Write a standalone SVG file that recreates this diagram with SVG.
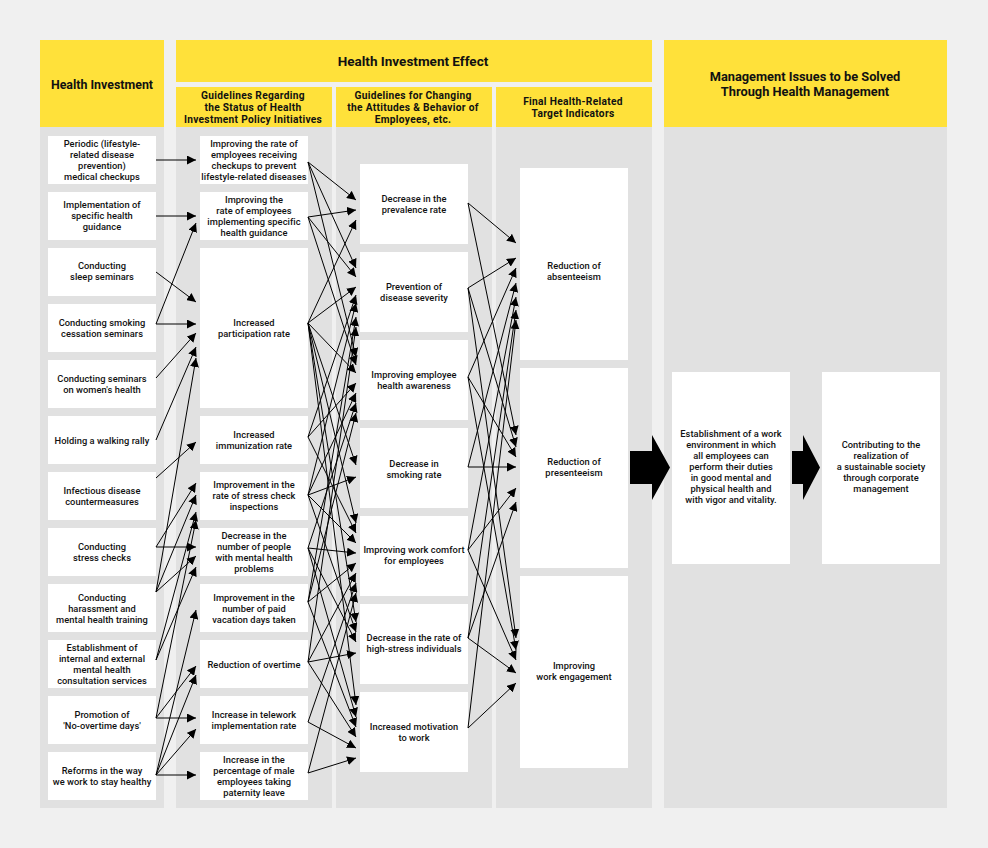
<svg xmlns="http://www.w3.org/2000/svg" width="988" height="848" viewBox="0 0 988 848">
<style>
.y{fill:#ffe13a}
.g{fill:#e1e1e1}
.w{fill:#fff}
text{font-family:Roboto,"Noto Sans",sans-serif;fill:#111;text-anchor:middle}
.t{font-size:9.3px;font-weight:500;letter-spacing:0.05px}
.h{font-size:12.4px;font-weight:bold}
.s{font-size:10.2px;font-weight:bold;letter-spacing:0.3px}
.c path{fill:none;stroke:#000;stroke-width:1;marker-end:url(#ah)}
</style>
<defs>
<marker id="ah" markerUnits="userSpaceOnUse" markerWidth="10" markerHeight="9" refX="9" refY="4.5" orient="auto">
<path d="M0,0 L9,4.5 L0,9 Z" fill="#000"/>
</marker>
</defs>
<rect width="988" height="848" fill="#f0f0f0"/>
<g id="columns">
<rect class="y" x="40" y="40" width="124" height="87"/>
<rect class="g" x="40" y="127" width="124" height="681"/>
<rect class="y" x="176" y="40" width="476" height="42"/>
<rect class="y" x="176" y="87" width="156" height="40"/>
<rect class="y" x="336" y="87" width="156" height="40"/>
<rect class="y" x="496" y="87" width="156" height="40"/>
<rect class="g" x="176" y="127" width="156" height="681"/>
<rect class="g" x="336" y="127" width="156" height="681"/>
<rect class="g" x="496" y="127" width="156" height="681"/>
<rect class="y" x="664" y="40" width="283" height="87"/>
<rect class="g" x="664" y="127" width="283" height="681"/>
</g>
<g id="headers">
<text class="h" x="102" y="88.5">Health Investment</text>
<text class="h" x="413" y="66" style="font-size:13.5px">Health Investment Effect</text>
<text class="s" x="253" y="98.5">Guidelines Regarding</text>
<text class="s" x="253" y="110.5">the Status of Health</text>
<text class="s" x="253" y="122.5">Investment Policy Initiatives</text>
<text class="s" x="413" y="98.5">Guidelines for Changing</text>
<text class="s" x="413" y="110.5">the Attitudes &amp; Behavior of</text>
<text class="s" x="413" y="122.5">Employees, etc.</text>
<text class="s" x="573" y="104.5">Final Health-Related</text>
<text class="s" x="573" y="116.5">Target Indicators</text>
<text class="h" x="805" y="80.5" style="font-size:12.8px">Management Issues to be Solved</text>
<text class="h" x="805" y="95.5" style="font-size:12.8px">Through Health Management</text>
</g>
<g id="hi1"><rect class="w" x="48" y="136" width="108" height="48"/><text class="t" x="102" y="147">Periodic (lifestyle-</text><text class="t" x="102" y="158">related disease</text><text class="t" x="102" y="169">prevention)</text><text class="t" x="102" y="180">medical checkups</text></g>
<g id="hi2"><rect class="w" x="48" y="192" width="108" height="48"/><text class="t" x="102" y="208">Implementation of</text><text class="t" x="102" y="219">specific health</text><text class="t" x="102" y="230">guidance</text></g>
<g id="hi3"><rect class="w" x="48" y="248" width="108" height="48"/><text class="t" x="102" y="269">Conducting</text><text class="t" x="102" y="280">sleep seminars</text></g>
<g id="hi4"><rect class="w" x="48" y="304" width="108" height="48"/><text class="t" x="102" y="325.5">Conducting smoking</text><text class="t" x="102" y="336.5">cessation seminars</text></g>
<g id="hi5"><rect class="w" x="48" y="360" width="108" height="48"/><text class="t" x="102" y="381.5">Conducting seminars</text><text class="t" x="102" y="392.5">on women's health</text></g>
<g id="hi6"><rect class="w" x="48" y="416" width="108" height="48"/><text class="t" x="102" y="443.5">Holding a walking rally</text></g>
<g id="hi7"><rect class="w" x="48" y="472" width="108" height="48"/><text class="t" x="102" y="493.5">Infectious disease</text><text class="t" x="102" y="504.5">countermeasures</text></g>
<g id="hi8"><rect class="w" x="48" y="528" width="108" height="48"/><text class="t" x="102" y="549.5">Conducting</text><text class="t" x="102" y="560.5">stress checks</text></g>
<g id="hi9"><rect class="w" x="48" y="584" width="108" height="48"/><text class="t" x="102" y="600.5">Conducting</text><text class="t" x="102" y="611.5">harassment and</text><text class="t" x="102" y="622.5">mental health training</text></g>
<g id="hi10"><rect class="w" x="48" y="640" width="108" height="48"/><text class="t" x="102" y="651">Establishment of</text><text class="t" x="102" y="662">internal and external</text><text class="t" x="102" y="673">mental health</text><text class="t" x="102" y="684">consultation services</text></g>
<g id="hi11"><rect class="w" x="48" y="696" width="108" height="48"/><text class="t" x="102" y="717.5">Promotion of</text><text class="t" x="102" y="728.5">'No-overtime days'</text></g>
<g id="hi12"><rect class="w" x="48" y="752" width="108" height="48"/><text class="t" x="102" y="773.5">Reforms in the way</text><text class="t" x="102" y="784.5">we work to stay healthy</text></g>
<g id="pi1"><rect class="w" x="200" y="136" width="108" height="48"/><text class="t" x="254" y="147">Improving the rate of</text><text class="t" x="254" y="158">employees receiving</text><text class="t" x="254" y="169">checkups to prevent</text><text class="t" x="254" y="180">lifestyle-related diseases</text></g>
<g id="pi2"><rect class="w" x="200" y="192" width="108" height="48"/><text class="t" x="254" y="203">Improving the</text><text class="t" x="254" y="214">rate of employees</text><text class="t" x="254" y="225">implementing specific</text><text class="t" x="254" y="236">health guidance</text></g>
<g id="pi3"><rect class="w" x="200" y="248" width="108" height="160"/><text class="t" x="254" y="325.5">Increased</text><text class="t" x="254" y="336.5">participation rate</text></g>
<g id="pi4"><rect class="w" x="200" y="416" width="108" height="48"/><text class="t" x="254" y="437.5">Increased</text><text class="t" x="254" y="448.5">immunization rate</text></g>
<g id="pi5"><rect class="w" x="200" y="472" width="108" height="48"/><text class="t" x="254" y="488">Improvement in the</text><text class="t" x="254" y="499">rate of stress check</text><text class="t" x="254" y="510">inspections</text></g>
<g id="pi6"><rect class="w" x="200" y="528" width="108" height="48"/><text class="t" x="254" y="539">Decrease in the</text><text class="t" x="254" y="550">number of people</text><text class="t" x="254" y="561">with mental health</text><text class="t" x="254" y="572">problems</text></g>
<g id="pi7"><rect class="w" x="200" y="584" width="108" height="48"/><text class="t" x="254" y="600.5">Improvement in the</text><text class="t" x="254" y="611.5">number of paid</text><text class="t" x="254" y="622.5">vacation days taken</text></g>
<g id="pi8"><rect class="w" x="200" y="640" width="108" height="48"/><text class="t" x="254" y="667.5">Reduction of overtime</text></g>
<g id="pi9"><rect class="w" x="200" y="696" width="108" height="48"/><text class="t" x="254" y="717.5">Increase in telework</text><text class="t" x="254" y="728.5">implementation rate</text></g>
<g id="pi10"><rect class="w" x="200" y="752" width="108" height="48"/><text class="t" x="254" y="763">Increase in the</text><text class="t" x="254" y="774">percentage of male</text><text class="t" x="254" y="785">employees taking</text><text class="t" x="254" y="796">paternity leave</text></g>
<g id="ab1"><rect class="w" x="360" y="164" width="108" height="80"/><text class="t" x="414" y="201.5">Decrease in the</text><text class="t" x="414" y="212.5">prevalence rate</text></g>
<g id="ab2"><rect class="w" x="360" y="252" width="108" height="80"/><text class="t" x="414" y="289.5">Prevention of</text><text class="t" x="414" y="300.5">disease severity</text></g>
<g id="ab3"><rect class="w" x="360" y="340" width="108" height="80"/><text class="t" x="414" y="377.5">Improving employee</text><text class="t" x="414" y="388.5">health awareness</text></g>
<g id="ab4"><rect class="w" x="360" y="428" width="108" height="80"/><text class="t" x="414" y="466.5">Decrease in</text><text class="t" x="414" y="477.5">smoking rate</text></g>
<g id="ab5"><rect class="w" x="360" y="516" width="108" height="80"/><text class="t" x="414" y="552.5">Improving work comfort</text><text class="t" x="414" y="563.5">for employees</text></g>
<g id="ab6"><rect class="w" x="360" y="604" width="108" height="80"/><text class="t" x="414" y="640.5">Decrease in the rate of</text><text class="t" x="414" y="651.5">high-stress individuals</text></g>
<g id="ab7"><rect class="w" x="360" y="692" width="108" height="80"/><text class="t" x="414" y="729.5">Increased motivation</text><text class="t" x="414" y="740.5">to work</text></g>
<g id="ti1"><rect class="w" x="520" y="168" width="108" height="192"/><text class="t" x="574" y="268.5">Reduction of</text><text class="t" x="574" y="279.5">absenteeism</text></g>
<g id="ti2"><rect class="w" x="520" y="368" width="108" height="200"/><text class="t" x="574" y="464.5">Reduction of</text><text class="t" x="574" y="475.5">presenteeism</text></g>
<g id="ti3"><rect class="w" x="520" y="576" width="108" height="192"/><text class="t" x="574" y="668.5">Improving</text><text class="t" x="574" y="679.5">work engagement</text></g>
<g id="mi1"><rect class="w" x="672" y="372" width="118" height="192"/><text class="t" x="731" y="436.5">Establishment of a work</text><text class="t" x="731" y="447.5">environment in which</text><text class="t" x="731" y="458.5">all employees can</text><text class="t" x="731" y="469.5">perform their duties</text><text class="t" x="731" y="480.5">in good mental and</text><text class="t" x="731" y="491.5">physical health and</text><text class="t" x="731" y="502.5">with vigor and vitality.</text></g>
<g id="mi2"><rect class="w" x="822" y="372" width="118" height="192"/><text class="t" x="881" y="447.5">Contributing to the</text><text class="t" x="881" y="458.5">realization of</text><text class="t" x="881" y="469.5">a sustainable society</text><text class="t" x="881" y="480.5">through corporate</text><text class="t" x="881" y="491.5">management</text></g>
<g id="bigarrows" fill="#000">
<polygon points="630,451 652,451 652,435 670,467.5 652,500 652,484 630,484"/>
<polygon points="792,451 803,451 803,435 820,467.5 803,500 803,484 792,484"/>
</g>
<g id="connectors" class="c">
<path d="M156 160L196 160"/>
<path d="M156 216L196 216"/>
<path d="M156 272L196 302"/>
<path d="M156 324L196 324"/>
<path d="M156 324L196 223"/>
<path d="M156 378L196 333"/>
<path d="M156 440L196 347"/>
<path d="M156 592L196 358"/>
<path d="M156 478L196 442"/>
<path d="M156 547L196 483"/>
<path d="M156 547L196 547"/>
<path d="M156 592L196 495"/>
<path d="M156 592L196 556"/>
<path d="M156 660L196 512"/>
<path d="M156 660L196 567"/>
<path d="M156 718L196 520"/>
<path d="M156 718L196 666"/>
<path d="M156 718L196 718"/>
<path d="M156 775L196 610"/>
<path d="M156 775L196 675"/>
<path d="M156 775L196 729"/>
<path d="M156 775L196 775"/>
<path d="M308 162L356 200"/>
<path d="M308 162L356 268"/>
<path d="M308 162L356 357"/>
<path d="M308 217L356 210"/>
<path d="M308 217L356 277"/>
<path d="M308 217L356 365"/>
<path d="M308 323L356 220"/>
<path d="M308 323L356 287"/>
<path d="M308 323L356 373"/>
<path d="M308 323L356 465"/>
<path d="M308 323L356 523"/>
<path d="M308 323L356 622"/>
<path d="M308 323L356 705"/>
<path d="M308 437L356 295"/>
<path d="M308 437L356 383"/>
<path d="M308 437L356 533"/>
<path d="M308 495L356 303"/>
<path d="M308 495L356 393"/>
<path d="M308 495L356 477"/>
<path d="M308 495L356 543"/>
<path d="M308 495L356 632"/>
<path d="M308 548L356 403"/>
<path d="M308 548L356 553"/>
<path d="M308 548L356 642"/>
<path d="M308 548L356 717"/>
<path d="M308 602L356 317"/>
<path d="M308 602L356 413"/>
<path d="M308 602L356 563"/>
<path d="M308 602L356 727"/>
<path d="M308 662L356 327"/>
<path d="M308 662L356 573"/>
<path d="M308 662L356 653"/>
<path d="M308 662L356 737"/>
<path d="M308 722L356 583"/>
<path d="M308 722L356 748"/>
<path d="M308 773L356 593"/>
<path d="M308 773L356 758"/>
<path d="M468 203L516 243"/>
<path d="M468 203L516 435"/>
<path d="M468 288L516 258"/>
<path d="M468 288L516 447"/>
<path d="M468 288L516 638"/>
<path d="M468 377L516 268"/>
<path d="M468 377L516 457"/>
<path d="M468 377L516 650"/>
<path d="M468 467L516 283"/>
<path d="M468 467L516 467"/>
<path d="M468 550L516 297"/>
<path d="M468 550L516 488"/>
<path d="M468 550L516 660"/>
<path d="M468 638L516 310"/>
<path d="M468 638L516 502"/>
<path d="M468 638L516 673"/>
<path d="M468 728L516 320"/>
<path d="M468 728L516 683"/>
</g>
</svg>
